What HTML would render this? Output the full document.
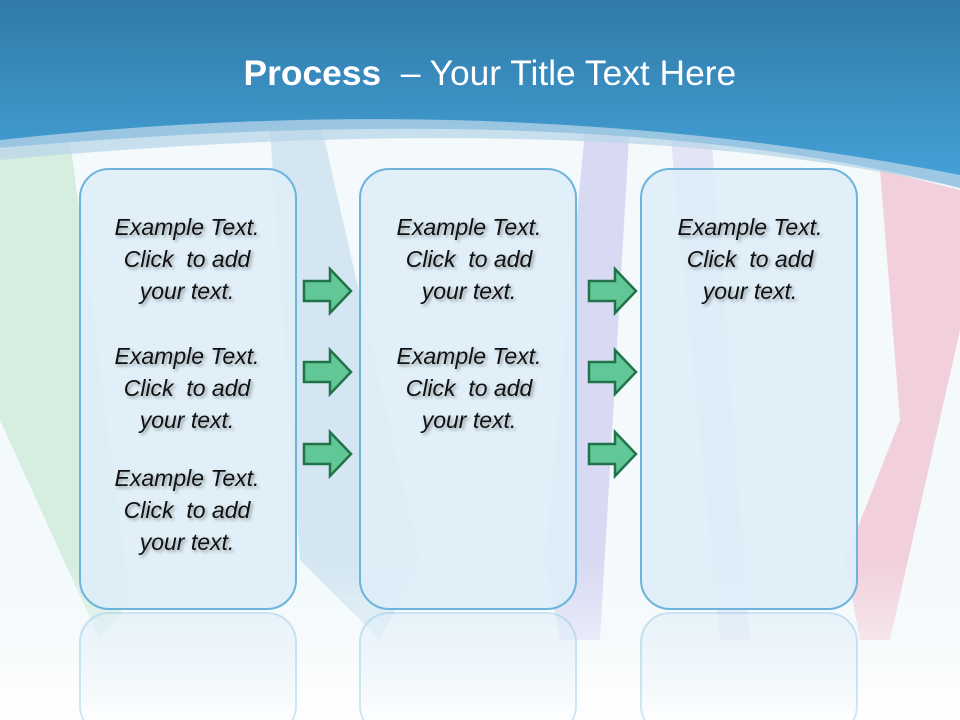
<!DOCTYPE html>
<html><head><meta charset="utf-8"><style>
html,body{margin:0;width:960px;height:720px;overflow:hidden}
body{position:relative;background:#f4f9fb;font-family:"Liberation Sans",sans-serif}
svg{position:absolute;left:0;top:0}
.title{position:absolute;left:10px;width:960px;top:54px;text-align:center;color:#fff;font-size:35px}
.title span{display:inline-block;transform:scaleX(1.01)}
.box{position:absolute;top:168px;width:214px;height:438px;border:2px solid #6cb4dc;border-radius:30px;background:rgba(222,238,248,0.93)}
.refl{position:absolute;top:612px;width:214px;height:120px;border:2px solid rgba(108,180,220,0.3);border-radius:30px;background:linear-gradient(rgba(222,238,248,0.6),rgba(255,255,255,0))}
.t{position:absolute;width:218px;text-align:center;font-style:italic;font-size:23px;line-height:32px;color:#111;text-shadow:2px 2px 3px rgba(0,0,0,0.35)}
</style></head><body>
<svg width="960" height="720">
<defs>
<linearGradient id="hd" x1="0" y1="0" x2="0" y2="1"><stop offset="0" stop-color="#2f7aa8"/><stop offset="1" stop-color="#46a3d9"/></linearGradient>
<linearGradient id="bot" x1="0" y1="0" x2="0" y2="1"><stop offset="0" stop-color="#f4f9fb" stop-opacity="0"/><stop offset="1" stop-color="#fff"/></linearGradient>
</defs>
<path d="M0 150 L70 140 L130 600 L100 640 L0 420Z" fill="#bfe6cf" opacity="0.6"/>
<path d="M270 130 L320 120 L420 560 L380 640 L300 560Z" fill="#bcd8ec" opacity="0.6"/>
<path d="M585 130 L630 120 L600 640 L560 640 L545 560Z" fill="#cccdf0" opacity="0.7"/>
<path d="M670 130 L710 120 L750 640 L720 640Z" fill="#d2d0f2" opacity="0.5"/>
<path d="M880 170 L960 190 L960 330 L890 640 L860 640 L845 560 L900 420Z" fill="#f1c5d3" opacity="0.8"/>
<rect x="0" y="560" width="960" height="160" fill="url(#bot)"/>
<path d="M0 0 H960 V188 Q600 95 0 148Z" fill="url(#hd)"/>
<path d="M0 140 Q500 85 960 175 L960 188 Q600 105 0 160Z" fill="#b9d6ea" opacity="0.75"/>
</svg>
<div class="title"><span><b>Process</b>&nbsp; – Your Title Text Here</span></div>
<div class="box" style="left:79px"></div>
<div class="box" style="left:359px"></div>
<div class="box" style="left:640px"></div>
<div class="refl" style="left:79px"></div>
<div class="refl" style="left:359px"></div>
<div class="refl" style="left:640px"></div>
<svg width="960" height="720" style="pointer-events:none"><g fill="#62c796" stroke="#22724a" stroke-width="2.5">
<path id="b" d="M304 281 H330 V269 L351 291 L330 313 V301 H304Z"/>
<use href="#b" y="81"/><use href="#b" y="163"/>
<use href="#b" x="285"/><use href="#b" x="285" y="81"/><use href="#b" x="285" y="163"/></g></svg>
<div class="t" style="left:78px;top:211px">Example Text.<br>Click&nbsp; to add<br>your text.</div>
<div class="t" style="left:78px;top:340px">Example Text.<br>Click&nbsp; to add<br>your text.</div>
<div class="t" style="left:78px;top:462px">Example Text.<br>Click&nbsp; to add<br>your text.</div>
<div class="t" style="left:360px;top:211px">Example Text.<br>Click&nbsp; to add<br>your text.</div>
<div class="t" style="left:360px;top:340px">Example Text.<br>Click&nbsp; to add<br>your text.</div>
<div class="t" style="left:641px;top:211px">Example Text.<br>Click&nbsp; to add<br>your text.</div>
</body></html>
